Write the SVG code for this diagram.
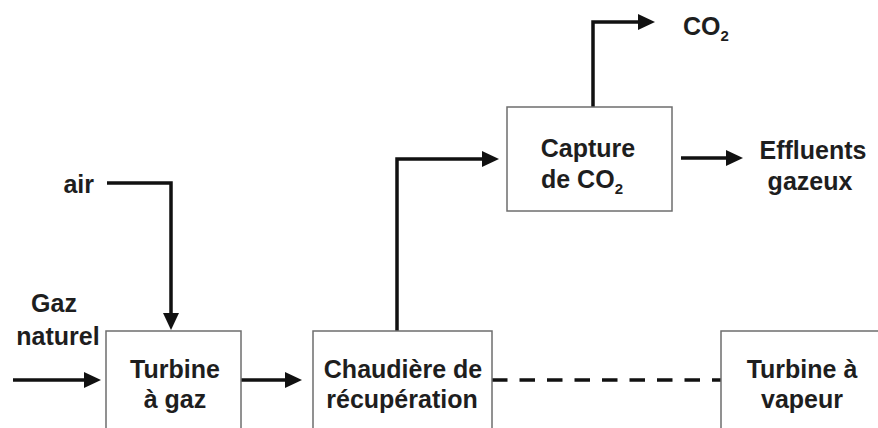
<svg xmlns="http://www.w3.org/2000/svg" width="878" height="428" viewBox="0 0 878 428">
  <style>
    .box { fill: #ffffff; stroke: #6e6e6e; stroke-width: 1.5; }
    .lbl { font-family: "Liberation Sans", Arial, sans-serif; font-weight: bold; font-size: 25px; fill: #1e1e1e; }
    .mid { text-anchor: middle; }
    .sub { font-size: 15px; }
    .flow { fill: none; stroke: #111111; stroke-width: 3.5; stroke-linejoin: miter; }
    .dash { fill: none; stroke: #111111; stroke-width: 3.5; stroke-dasharray: 15.5 12; }
  </style>
  <defs>
    <marker id="arrow" markerUnits="userSpaceOnUse" markerWidth="18" markerHeight="16" refX="12" refY="8" orient="auto">
      <path d="M0,0 L17,8 L0,16 z" fill="#111111"/>
    </marker>
  </defs>
  <rect width="878" height="428" fill="#ffffff"/>

  <g id="connectors">
    <path class="flow" d="M13,380 H96" marker-end="url(#arrow)"/>
    <path class="flow" d="M241,380 H297" marker-end="url(#arrow)"/>
    <path class="flow" d="M107,183 H171 V325" marker-end="url(#arrow)"/>
    <path class="flow" d="M397,331 V159 H494" marker-end="url(#arrow)"/>
    <path class="flow" d="M593,107 V22 H650" marker-end="url(#arrow)"/>
    <path class="flow" d="M681,158 H738" marker-end="url(#arrow)"/>
    <path class="dash" d="M492,380 H721"/>
  </g>

  <g id="turbine-gaz">
    <rect class="box" x="106" y="331" width="135" height="110"/>
    <text class="lbl mid" x="175" y="378">Turbine</text>
    <text class="lbl mid" x="175" y="408">à gaz</text>
  </g>

  <g id="chaudiere">
    <rect class="box" x="313" y="331" width="179" height="110"/>
    <text class="lbl mid" x="403" y="378">Chaudière de</text>
    <text class="lbl mid" x="402" y="408">récupération</text>
  </g>

  <g id="turbine-vapeur">
    <rect class="box" x="721" y="331" width="170" height="110"/>
    <text class="lbl mid" x="802" y="378">Turbine à</text>
    <text class="lbl mid" x="802" y="408">vapeur</text>
  </g>

  <g id="capture">
    <rect class="box" x="507" y="107" width="165" height="104"/>
    <text class="lbl mid" x="588" y="157">Capture</text>
    <text class="lbl" x="541" y="188">de CO<tspan class="sub" dy="6">2</tspan></text>
  </g>

  <g id="co2">
    <text class="lbl" x="683" y="35">CO<tspan class="sub" dy="6">2</tspan></text>
  </g>

  <g id="effluents">
    <text class="lbl mid" x="813" y="159">Effluents</text>
    <text class="lbl mid" x="810" y="190">gazeux</text>
  </g>

  <g id="gaz-naturel">
    <text class="lbl mid" x="54" y="312">Gaz</text>
    <text class="lbl mid" x="58" y="345">naturel</text>
  </g>

  <g id="air">
    <text class="lbl" x="94" y="193" text-anchor="end">air</text>
  </g>
</svg>
